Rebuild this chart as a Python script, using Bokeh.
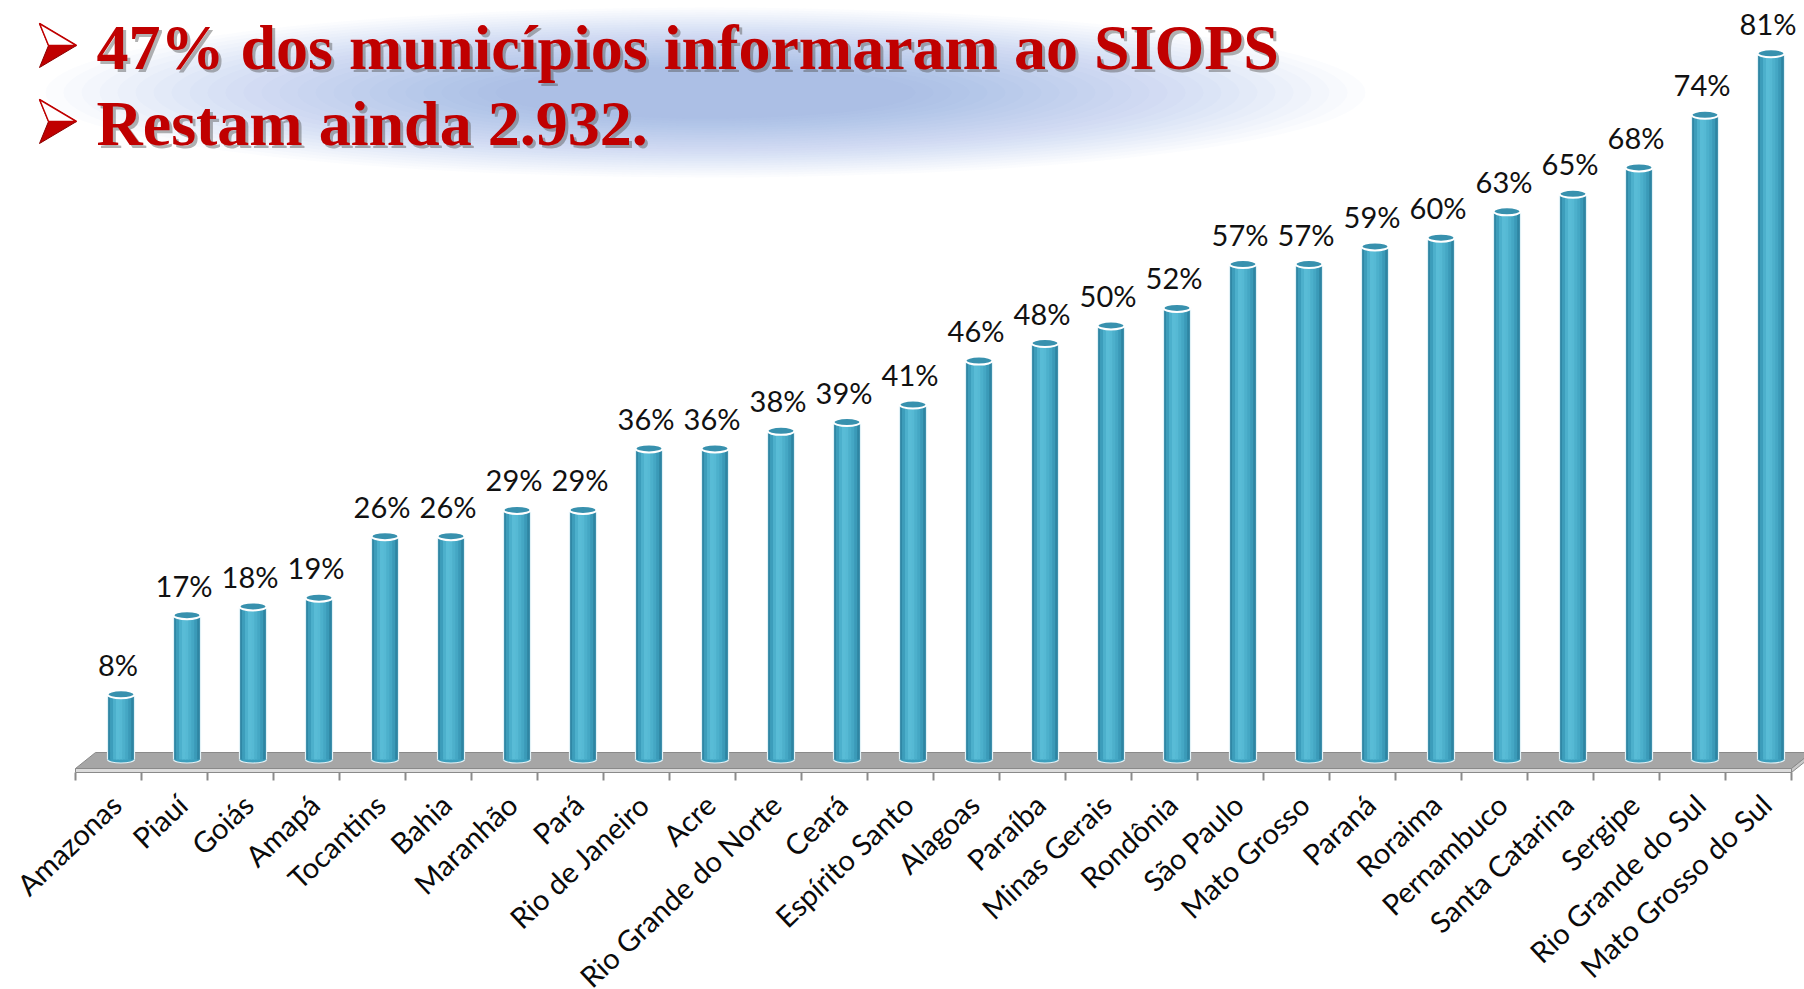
import numpy as np
from bokeh.plotting import figure
from bokeh.models import Label, Range1d
from bokeh.core.properties import value
from bokeh.embed import file_html
from bokeh.resources import INLINE

# ---------------- data ----------------
states = ["Amazonas", "Piauí", "Goiás", "Amapá", "Tocantins", "Bahia", "Maranhão",
          "Pará", "Rio de Janeiro", "Acre", "Rio Grande do Norte", "Ceará",
          "Espírito Santo", "Alagoas", "Paraíba", "Minas Gerais", "Rondônia",
          "São Paulo", "Mato Grosso", "Paraná", "Roraima", "Pernambuco",
          "Santa Catarina", "Sergipe", "Rio Grande do Sul", "Mato Grosso do Sul"]
pct = [8, 17, 18, 19, 26, 26, 29, 29, 36, 36, 38, 39, 41, 46, 48, 50, 52,
       57, 57, 59, 60, 63, 65, 68, 74, 81]
pct_labels = [f"{v}%" for v in pct]
title_lines = ["47% dos municípios informaram ao SIOPS", "Restam ainda 2.932."]

# ---------------- geometry ----------------
W, H = 1804, 989
PX_PER_CAT = 66.0
PX_PER_PCT = 8.78
X0_PX = 120.5          # pixel of first category centre
Y0_PX = 764.0          # pixel (from top) of value 0

x_start = -X0_PX / PX_PER_CAT
x_end = x_start + W / PX_PER_CAT
y_end = Y0_PX / PX_PER_PCT
y_start = y_end - H / PX_PER_PCT


def sx(px):
    return x_start + px / PX_PER_CAT


def sy(py):
    return y_end - py / PX_PER_PCT


def dpx(n):  # pixels -> data units in y
    return n / PX_PER_PCT


p = figure(width=W, height=H, output_backend="svg", toolbar_location=None,
           x_range=Range1d(x_start, x_end), y_range=Range1d(y_start, y_end),
           x_axis_type=None, y_axis_type=None, min_border=0)
p.outline_line_color = None
p.background_fill_color = "white"
p.border_fill_color = "white"

# ---------------- title glow ----------------
n_glow = 26
for k in range(n_glow):
    t = k / (n_glow - 1)
    p.ellipse(x=sx(705), y=sy(92), width=1320 - t * 900, height=170 - t * 118,
              width_units="screen", height_units="screen",
              fill_color="#6f95d0", fill_alpha=0.026, line_color=None)

# ---------------- floor ----------------
n = len(states)
idx = np.arange(n)
tick_pos = np.arange(n + 1) - 0.5 - 12.5 / PX_PER_CAT
depth = 20 / PX_PER_CAT
f_bot = -dpx(4)
f_top = dpx(12)
front_bot = f_bot - dpx(4)
t0, tN = tick_pos[0], tick_pos[-1]

p.patch(x=[t0, tN, tN + depth, t0 + depth], y=[f_bot, f_bot, f_top, f_top],
        fill_color="#a6a6a6", line_color="#8a8a8a", line_width=1)
p.patch(x=[t0, tN, tN, t0], y=[f_bot, f_bot, front_bot, front_bot],
        fill_color="#dcdcdc", line_color="#8a8a8a", line_width=1)
p.patch(x=[tN, tN + depth, tN + depth, tN], y=[f_bot, f_top, f_top - dpx(4), front_bot],
        fill_color="#c8c8c8", line_color="#8a8a8a", line_width=1)
p.segment(x0=tick_pos, y0=front_bot, x1=tick_pos, y1=front_bot - dpx(8),
          line_color="#8a8a8a", line_width=2)

# ---------------- bars (cylinders) ----------------
BASE = dpx(5)
bw = 27 / PX_PER_CAT
strip_colors = ["#2f87a5", "#3c9dbb", "#4cb0cc", "#58bcd6", "#55b9d4",
                "#4cb0cc", "#44a7c4", "#3a9ab8", "#2d85a3"]
ns = len(strip_colors)

p.ellipse(x=idx, y=BASE, width=bw, height=7, height_units="screen",
          fill_color="#3d9fbd", line_color="#e2f2f7", line_width=1.2)
for k, c in enumerate(strip_colors):
    off = -bw / 2 + bw * (k + 0.5) / ns
    p.vbar(x=idx + off, top=pct, bottom=BASE, width=bw / ns * 1.25,
           fill_color=c, line_color=None)
p.segment(x0=idx - bw / 2, y0=BASE, x1=idx - bw / 2, y1=pct,
          line_color="#e2f2f7", line_width=1.2)
p.segment(x0=idx + bw / 2, y0=BASE, x1=idx + bw / 2, y1=pct,
          line_color="#e2f2f7", line_width=1.2)
p.ellipse(x=idx, y=pct, width=bw, height=8, height_units="screen",
          fill_color="#3891ae", line_color="white", line_width=2)

# ---------------- labels ----------------
p.text(x=idx, y=pct, text=pct_labels, text_align="center", text_baseline="alphabetic",
       x_offset=-3, y_offset=-30, text_font=value("Lato"), text_font_size="29px",
       text_color="#111111")
p.text(x=idx, y=np.zeros(n), text=states, angle=0.759, text_align="right",
       text_baseline="middle", x_offset=-5, y_offset=35, text_font=value("Lato"),
       text_font_size="29px", text_color="#0a0a0a")

# ---------------- title ----------------
for j, line in enumerate(title_lines):
    base_ref = 68 + 76 * j
    ax = [sx(39), sx(76), sx(48)]
    ay = [sy(23 + 76 * j), sy(45 + 76 * j), sy(45 + 76 * j)]
    p.patch(x=[sx(39), sx(76), sx(39), sx(48)],
            y=[sy(23 + 76 * j), sy(45 + 76 * j), sy(67 + 76 * j), sy(45 + 76 * j)],
            fill_color="#c00000", line_color="#8a0000", line_width=1)
    p.patch(x=ax, y=ay, fill_color="white", line_color="#c00000", line_width=1.5)
    for dx, dy, col, alpha in [(3, -3, "#555555", 0.45), (0, 0, "#c00000", 1.0)]:
        p.add_layout(Label(x=96 + dx, y=H - base_ref + 21 + dy,
                           x_units="screen", y_units="screen", text=line,
                           text_font="Liberation Serif", text_font_style="bold",
                           text_font_size="64px", text_color=col, text_alpha=alpha,
                           text_baseline="alphabetic"))

open("out.html", "w").write(file_html(p, INLINE))
